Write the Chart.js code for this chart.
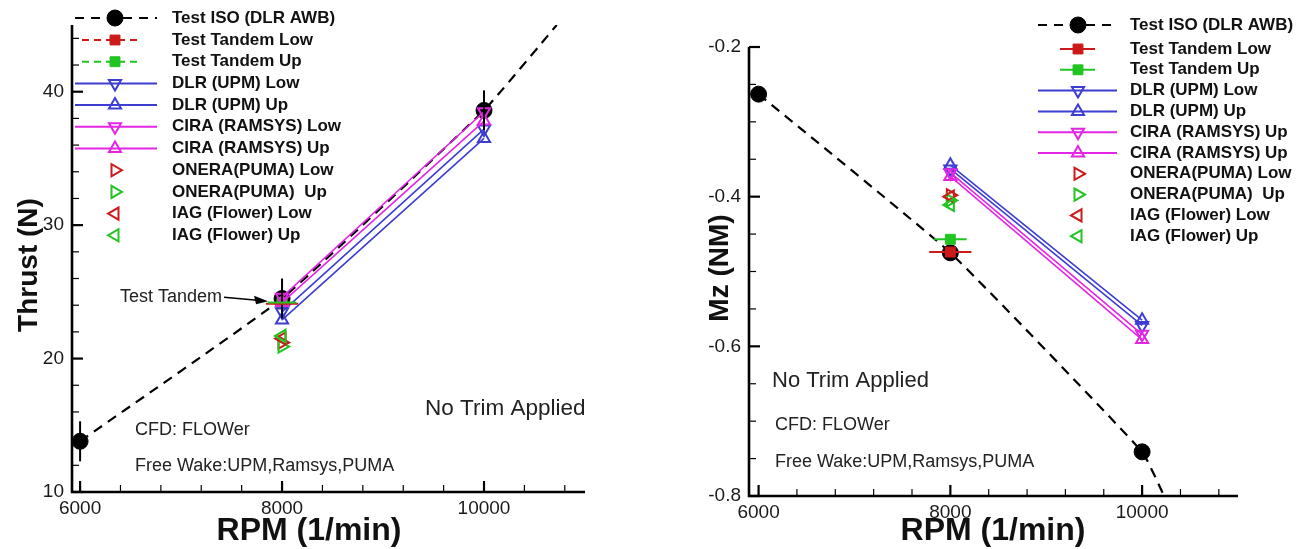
<!DOCTYPE html>
<html>
<head>
<meta charset="utf-8">
<script src="https://cdn.jsdelivr.net/npm/chart.js@4.4.0/dist/chart.umd.min.js"></script>
<style>
  body { margin: 0; background: #fff; }
  #wrap { position: relative; width: 1312px; height: 549px; }
  .box { position: absolute; top: 0; width: 656px; height: 549px; }
</style>
</head>
<body>
<div id="wrap">
  <div class="box" style="left:0"><canvas id="grafico0" width="656" height="549"></canvas></div>
  <div class="box" style="left:656px"><canvas id="grafico1" width="656" height="549"></canvas></div>
</div>
<script>
// RPM values
var rpmIso = [6000, 8000, 10000];
var rpmCfd = [8000, 10000];
var rpmTandem = [8000];
var rpmTicks = [6000, 8000, 10000];

// Thrust (N) - left plot
var thrustTicks = [10, 20, 30, 40];
var thrustIso = [13.8, 24.5, 38.6];
var thrustIsoErr = [1.5, 1.5, 1.5];
var thrustFitRpm = [6000, 8000, 10000, 10720];
var thrustFit = [13.8, 24.5, 38.6, 45];
var thrustTandemLow = [24.1];
var thrustTandemUp = [24.2];
var thrustTandemErr = [160, 140];
var thrustDlrLow = [23.5, 37.2];
var thrustDlrUp = [22.9, 36.5];
var thrustCiraLow = [24.6, 38.5];
var thrustCiraUp = [24.2, 37.8];
var thrustOneraLow = [21.2];
var thrustOneraUp = [20.9];
var thrustIagLow = [21.5];
var thrustIagUp = [21.7];

// Mz (NM) - right plot
var mzTicks = [-0.8, -0.6, -0.4, -0.2];
var mzIso = [-0.263, -0.475, -0.741];
var mzFitRpm = [6000, 8000, 10000, 10230];
var mzFit = [-0.263, -0.475, -0.741, -0.8];
var mzTandemLow = [-0.474];
var mzTandemUp = [-0.457];
var mzTandemErr = [220, 170];
var mzDlrLow = [-0.363, -0.572];
var mzDlrUp = [-0.358, -0.565];
var mzCiraLow = [-0.368, -0.584];
var mzCiraUp = [-0.373, -0.591];
var mzOneraLow = [-0.398];
var mzOneraUp = [-0.405];
var mzIagLow = [-0.400];
var mzIagUp = [-0.411];

var leftNames = ["Test ISO (DLR AWB)", "Test Tandem Low", "Test Tandem Up", "DLR (UPM) Low", "DLR (UPM) Up",
  "CIRA (RAMSYS) Low", "CIRA (RAMSYS) Up", "ONERA(PUMA) Low", "ONERA(PUMA)  Up", "IAG (Flower) Low", "IAG (Flower) Up"];
var rightNames = ["Test ISO (DLR AWB)", "Test Tandem Low", "Test Tandem Up", "DLR (UPM) Low", "DLR (UPM) Up",
  "CIRA (RAMSYS) Up", "CIRA (RAMSYS) Up", "ONERA(PUMA) Low", "ONERA(PUMA)  Up", "IAG (Flower) Low", "IAG (Flower) Up"];

var RED = '#cc1a1a', GREEN = '#22c422', BLUE = '#3d3dd2', MAG = '#e426e4', HOLLOW = 'rgba(255,255,255,0)';
var FONT = '"Liberation Sans", Arial, sans-serif';

function pts(xs, ys) {
  return xs.map(function (x, i) { return { x: x, y: ys[i] }; });
}

function buildDatasets(names, s, cfdWidth, tandemDash) {
  function tri(label, xs, ys, color, rot, showLine, order) {
    return { label: label, data: pts(xs, ys), showLine: showLine, borderColor: color, borderWidth: cfdWidth,
      backgroundColor: HOLLOW, pointStyle: 'triangle', pointRotation: rot, pointRadius: 7, pointBorderWidth: 2,
      legendLine: showLine ? 'long' : null, order: order, clip: false };
  }
  return [
    { label: names[0], data: pts(rpmIso, s.iso), showLine: false, pointStyle: 'circle', pointRadius: 8,
      backgroundColor: '#000', borderColor: '#000', borderDash: [9, 7], legendLine: 'long', errY: s.isoErr, order: 25, clip: false },
    { label: names[1], data: pts(rpmTandem, s.tLow), showLine: false, pointStyle: 'rect', pointRadius: 7,
      backgroundColor: RED, borderColor: RED, borderDash: tandemDash, legendLine: 'short', errX: [s.tErr[0]], order: 21, clip: false },
    { label: names[2], data: pts(rpmTandem, s.tUp), showLine: false, pointStyle: 'rect', pointRadius: 7,
      backgroundColor: GREEN, borderColor: GREEN, borderDash: tandemDash, legendLine: 'short', errX: [s.tErr[1]], order: 20, clip: false },
    tri(names[3], rpmCfd, s.dlrLow, BLUE, 180, true, 15),
    tri(names[4], rpmCfd, s.dlrUp, BLUE, 0, true, 14),
    tri(names[5], rpmCfd, s.ciraLow, MAG, 180, true, 10),
    tri(names[6], rpmCfd, s.ciraUp, MAG, 0, true, 9),
    tri(names[7], rpmTandem, s.oneraLow, RED, 90, false, 5),
    tri(names[8], rpmTandem, s.oneraUp, GREEN, 90, false, 4),
    tri(names[9], rpmTandem, s.iagLow, RED, 270, false, 3),
    tri(names[10], rpmTandem, s.iagUp, GREEN, 270, false, 2),
    { label: '', data: pts(s.fitRpm, s.fit), showLine: true, borderColor: '#000', borderWidth: 2.2,
      borderDash: [10, 7], pointRadius: 0, tension: 0.12, order: 30 }
  ];
}

// axis lines + inward major/minor ticks
var frame = {
  id: 'frame',
  afterDatasetsDraw: function (chart, args, o) {
    var ctx = chart.ctx, a = chart.chartArea, sx = chart.scales.x, sy = chart.scales.y;
    ctx.save();
    ctx.strokeStyle = '#000';
    function isMajor(v, from, step) {
      var q = (v - from) / step;
      return Math.abs(q - Math.round(q)) < 1e-6;
    }
    for (var v = o.xFrom; v <= sx.max + 1e-9; v += o.xMinor) {
      var maj = isMajor(v, o.xFrom, o.xMajor), px = sx.getPixelForValue(v);
      ctx.lineWidth = maj ? 2.2 : 1.2;
      ctx.beginPath(); ctx.moveTo(px, a.bottom); ctx.lineTo(px, a.bottom - (maj ? 11 : 7)); ctx.stroke();
    }
    for (var w = o.yFrom; w <= sy.max + 1e-9; w += o.yMinor) {
      var majY = isMajor(w, o.yFrom, o.yMajor), py = sy.getPixelForValue(w);
      ctx.lineWidth = majY ? 2.2 : 1.2;
      ctx.beginPath(); ctx.moveTo(a.left, py); ctx.lineTo(a.left + (majY ? 11 : 7), py); ctx.stroke();
    }
    ctx.lineWidth = 2.6;
    ctx.beginPath();
    ctx.moveTo(a.left, a.top); ctx.lineTo(a.left, a.bottom); ctx.lineTo(a.right, a.bottom);
    ctx.stroke();
    ctx.restore();
  }
};

// error bars (vertical errY in data units, horizontal errX in rpm)
var errorBars = {
  id: 'errorBars',
  afterDatasetsDraw: function (chart) {
    var ctx = chart.ctx, sx = chart.scales.x, sy = chart.scales.y;
    ctx.save();
    chart.data.datasets.forEach(function (d) {
      if (!d.errY && !d.errX) return;
      ctx.strokeStyle = d.borderColor;
      ctx.lineWidth = 2;
      d.data.forEach(function (p, i) {
        ctx.beginPath();
        if (d.errY) {
          ctx.moveTo(sx.getPixelForValue(p.x), sy.getPixelForValue(p.y - d.errY[i]));
          ctx.lineTo(sx.getPixelForValue(p.x), sy.getPixelForValue(p.y + d.errY[i]));
        } else {
          ctx.moveTo(sx.getPixelForValue(p.x - d.errX[i]), sy.getPixelForValue(p.y));
          ctx.lineTo(sx.getPixelForValue(p.x + d.errX[i]), sy.getPixelForValue(p.y));
        }
        ctx.stroke();
      });
    });
    ctx.restore();
  }
};

// legend drawn inside the plot, Tecplot style
var sideLegend = {
  id: 'sideLegend',
  afterDraw: function (chart, args, o) {
    var ctx = chart.ctx;
    var sets = chart.data.datasets.filter(function (d) { return d.label; });
    ctx.save();
    sets.forEach(function (d, i) {
      var y = i === 0 ? o.y0 : o.y1 + (i - 1) * o.dy;
      if (d.legendLine) {
        var sh = d.legendLine === 'short';
        ctx.beginPath();
        ctx.setLineDash(d.borderDash || []);
        ctx.lineWidth = 2;
        ctx.strokeStyle = d.borderColor;
        ctx.moveTo(sh ? o.s0 : o.l0, y);
        ctx.lineTo(sh ? o.s1 : o.l1, y);
        ctx.stroke();
        ctx.setLineDash([]);
      }
      ctx.fillStyle = d.backgroundColor;
      ctx.strokeStyle = d.borderColor;
      ctx.lineWidth = d.pointBorderWidth || 1;
      Chart.helpers.drawPoint(ctx, { pointStyle: d.pointStyle, rotation: d.pointRotation || 0,
        radius: d.pointRadius, borderWidth: d.pointBorderWidth || 1 }, o.cx, y);
      ctx.fillStyle = '#111';
      ctx.font = 'bold 17px ' + FONT;
      ctx.textBaseline = 'middle';
      ctx.textAlign = 'left';
      ctx.fillText(d.label, o.tx, y);
    });
    ctx.restore();
  }
};

// axis titles and free text
var notes = {
  id: 'notes',
  afterDraw: function (chart, args, o) {
    var ctx = chart.ctx;
    ctx.save();
    ctx.fillStyle = '#111';
    ctx.textBaseline = 'middle';
    ctx.textAlign = 'center';
    ctx.font = 'bold 32px ' + FONT;
    ctx.fillText(o.xTitle.text, o.xTitle.x, o.xTitle.y);
    ctx.save();
    ctx.translate(o.yTitle.x, o.yTitle.y);
    ctx.rotate(-Math.PI / 2);
    ctx.font = 'bold 28px ' + FONT;
    ctx.fillText(o.yTitle.text, 0, 0);
    ctx.restore();
    ctx.textAlign = 'left';
    ctx.fillStyle = '#222';
    o.texts.forEach(function (t) {
      ctx.font = t.size + 'px ' + FONT;
      ctx.fillText(t.text, t.x, t.y);
    });
    if (o.arrow) {
      var sx = chart.scales.x, sy = chart.scales.y;
      var tipX = sx.getPixelForValue(o.arrow.x) - 14, tipY = sy.getPixelForValue(o.arrow.y);
      var tailX = tipX - 44, tailY = tipY - 4;
      ctx.strokeStyle = '#000';
      ctx.fillStyle = '#000';
      ctx.lineWidth = 1.6;
      ctx.beginPath(); ctx.moveTo(tailX, tailY); ctx.lineTo(tipX - 8, tipY - 0.7); ctx.stroke();
      ctx.beginPath();
      ctx.moveTo(tipX, tipY); ctx.lineTo(tipX - 14, tipY - 5.5); ctx.lineTo(tipX - 12, tipY + 3); ctx.closePath();
      ctx.fill();
      ctx.fillStyle = '#222';
      ctx.textAlign = 'right';
      ctx.font = '18px ' + FONT;
      ctx.fillText(o.arrow.text, tailX - 2, tailY);
    }
    ctx.restore();
  }
};

function makeChart(id, cfg) {
  new Chart(document.getElementById(id), {
    type: 'scatter',
    data: { datasets: cfg.datasets },
    plugins: [errorBars, frame, sideLegend, notes],
    options: {
      responsive: false,
      animation: false,
      events: [],
      layout: { padding: cfg.padding },
      plugins: {
        legend: { display: false },
        tooltip: { enabled: false },
        frame: cfg.frame,
        sideLegend: cfg.legend,
        notes: cfg.notes
      },
      scales: {
        x: {
          type: 'linear', min: cfg.xMin, max: cfg.xMax,
          grid: { display: false, drawTicks: false },
          border: { display: false },
          ticks: { padding: 5, color: '#1a1a1a', font: { size: 19, family: FONT },
            callback: function (v) { return String(v); } },
          afterBuildTicks: function (s) { s.ticks = rpmTicks.map(function (v) { return { value: v }; }); },
          afterFit: function (s) { s.height = cfg.xHeight; }
        },
        y: {
          type: 'linear', min: cfg.yMin, max: cfg.yMax,
          grid: { display: false, drawTicks: false },
          border: { display: false },
          ticks: { padding: 8, color: '#1a1a1a', font: { size: 19, family: FONT },
            callback: cfg.yFormat },
          afterBuildTicks: function (s) { s.ticks = cfg.yTicks.map(function (v) { return { value: v }; }); },
          afterFit: function (s) { s.width = cfg.yWidth; }
        }
      }
    }
  });
}

makeChart('grafico0', {
  datasets: buildDatasets(leftNames, {
    iso: thrustIso, isoErr: thrustIsoErr, fitRpm: thrustFitRpm, fit: thrustFit,
    tLow: thrustTandemLow, tUp: thrustTandemUp, tErr: thrustTandemErr,
    dlrLow: thrustDlrLow, dlrUp: thrustDlrUp, ciraLow: thrustCiraLow, ciraUp: thrustCiraUp,
    oneraLow: thrustOneraLow, oneraUp: thrustOneraUp, iagLow: thrustIagLow, iagUp: thrustIagUp
  }, 1.6, [7, 5]),
  padding: { left: 0, right: 71, top: 25, bottom: 0 },
  xMin: 5920, xMax: 11000, yMin: 10, yMax: 45, yTicks: thrustTicks,
  xHeight: 57, yWidth: 72,
  yFormat: function (v) { return String(v); },
  frame: { xFrom: 6000, xMajor: 2000, xMinor: 400, yFrom: 10, yMajor: 10, yMinor: 2 },
  legend: { y0: 18, y1: 40, dy: 21.7, l0: 75, l1: 157, s0: 82, s1: 142, cx: 115, tx: 172 },
  notes: {
    xTitle: { text: 'RPM (1/min)', x: 309, y: 531 },
    yTitle: { text: 'Thrust (N)', x: 29, y: 265 },
    texts: [
      { text: 'No Trim Applied', x: 425, y: 409, size: 22.5 },
      { text: 'CFD: FLOWer', x: 135, y: 430, size: 18 },
      { text: 'Free Wake:UPM,Ramsys,PUMA', x: 135, y: 466, size: 18 }
    ],
    arrow: { text: 'Test Tandem', x: 8000, y: 24.3 }
  }
});

makeChart('grafico1', {
  datasets: buildDatasets(rightNames, {
    iso: mzIso, isoErr: null, fitRpm: mzFitRpm, fit: mzFit,
    tLow: mzTandemLow, tUp: mzTandemUp, tErr: mzTandemErr,
    dlrLow: mzDlrLow, dlrUp: mzDlrUp, ciraLow: mzCiraLow, ciraUp: mzCiraUp,
    oneraLow: mzOneraLow, oneraUp: mzOneraUp, iagLow: mzIagLow, iagUp: mzIagUp
  }, 1.6, []),
  padding: { left: 0, right: 74, top: 47, bottom: 0 },
  xMin: 5900, xMax: 11000, yMin: -0.8, yMax: -0.2, yTicks: mzTicks,
  xHeight: 53, yWidth: 93,
  yFormat: function (v) { return v.toFixed(1); },
  frame: { xFrom: 6000, xMajor: 2000, xMinor: 400, yFrom: -0.8, yMajor: 0.2, yMinor: 0.05 },
  legend: { y0: 25, y1: 49, dy: 20.8, l0: 382, l1: 461, s0: 404, s1: 439, cx: 422, tx: 474 },
  notes: {
    xTitle: { text: 'RPM (1/min)', x: 337, y: 531 },
    yTitle: { text: 'Mz (NM)', x: 64, y: 268 },
    texts: [
      { text: 'No Trim Applied', x: 116, y: 381, size: 22 },
      { text: 'CFD: FLOWer', x: 119, y: 425, size: 18 },
      { text: 'Free Wake:UPM,Ramsys,PUMA', x: 119, y: 462, size: 18 }
    ]
  }
});
</script>
</body>
</html>
